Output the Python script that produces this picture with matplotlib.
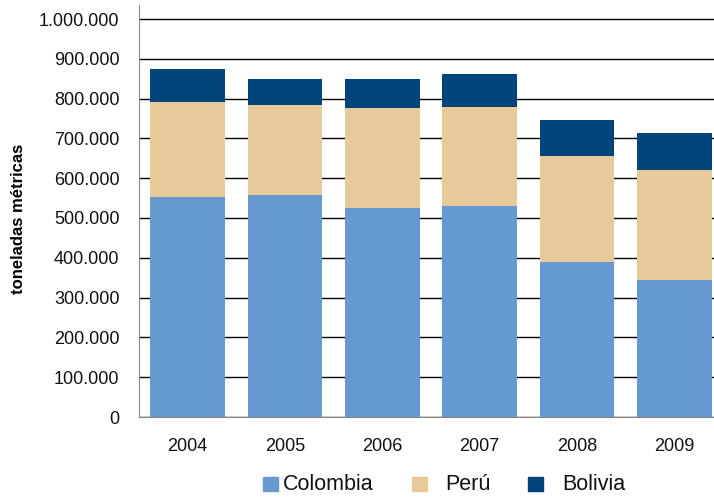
import numpy as np
import matplotlib
matplotlib.use("Agg")
from matplotlib import pyplot as plt
from matplotlib.patches import Rectangle
from matplotlib.ticker import FuncFormatter

plt.rcParams['font.family'] = ['Liberation Sans', 'DejaVu Sans']

years = ["2004", "2005", "2006", "2007", "2008", "2009"]
colombia = [552000, 557000, 526000, 529000, 390000, 345000]
peru = [239000, 226000, 250000, 249000, 265000, 275000]
bolivia = [83000, 66000, 73000, 83000, 91000, 93000]
series = ["Colombia", "Perú", "Bolivia"]

c_col = '#6699D0'
c_per = '#E8CA9A'
c_bol = '#00447C'

W, H = 714, 497
fig = plt.figure(figsize=(W / 100, H / 100), dpi=100)
ax = fig.add_axes([139 / W, 80 / H, 584 / W, 412 / H])

x = np.arange(len(years))
w = 0.77
col = np.array(colombia)
per = np.array(peru)
bol = np.array(bolivia)
ax.bar(x, col, w, color=c_col, zorder=2)
ax.bar(x, per, w, bottom=col, color=c_per, zorder=2)
ax.bar(x, bol, w, bottom=col + per, color=c_bol, zorder=2)

ax.set_xlim(-0.5, 5.5)
ax.set_ylim(0, 1e6 * 412 / 398)
ax.set_yticks(np.arange(0, 1000001, 100000))
ax.yaxis.set_major_formatter(FuncFormatter(lambda v, p: f"{int(v):,}".replace(",", ".")))
ax.set_xticks(x)
ax.set_xticklabels(years)
ax.grid(axis='y', color='black', linewidth=1, zorder=0)

for s in ['top', 'right']:
    ax.spines[s].set_visible(False)
ax.spines['left'].set_color('#888888')
ax.spines['bottom'].set_color('#888888')
ax.tick_params(axis='y', length=0, pad=14, labelsize=13, colors='#111111')
ax.tick_params(axis='x', length=0, pad=15, labelsize=13, colors='#111111')

fig.text(19 / W, 1 - 219 / H, 'toneladas métricas', rotation=90,
         fontsize=12, fontweight='bold', ha='center', va='center')

# legend drawn by hand (uneven gaps as in the original)
sq_x = [263, 412, 528]
txt_x = [283, 445, 562]
for name, c, sx, tx in zip(series, [c_col, c_per, c_bol], sq_x, txt_x):
    fig.patches.append(Rectangle((sx / W, 1 - 491 / H), 15 / W, 14 / H,
                                 transform=fig.transFigure, color=c))
    fig.text(tx / W, 1 - 485 / H, name, fontsize=15.5, ha='left', va='center',
             color='#111111')

fig.savefig('out.png', dpi=100)
